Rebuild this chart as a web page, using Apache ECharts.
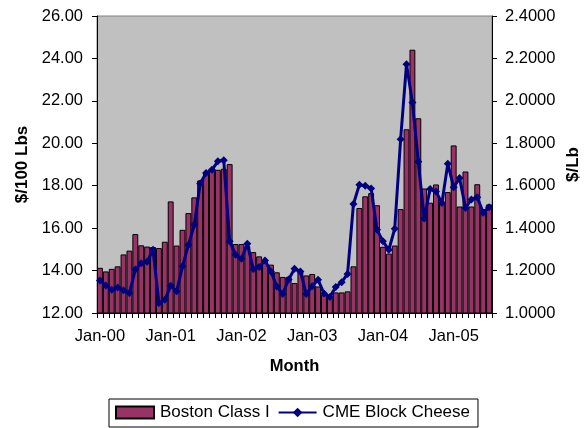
<!DOCTYPE html>
<html>
<head>
<meta charset="utf-8">
<script src="https://cdn.jsdelivr.net/npm/echarts@6/dist/echarts.min.js"></script>
<style>
  html, body { margin: 0; padding: 0; background: #fff; }
  #chart { width: 587px; height: 428px; }
</style>
</head>
<body>
<div id="chart"></div>
<script>
// months Jan-00 .. Jul-05
var months = [
  'Jan-00','Feb-00','Mar-00','Apr-00','May-00','Jun-00','Jul-00','Aug-00','Sep-00','Oct-00','Nov-00','Dec-00',
  'Jan-01','Feb-01','Mar-01','Apr-01','May-01','Jun-01','Jul-01','Aug-01','Sep-01','Oct-01','Nov-01','Dec-01',
  'Jan-02','Feb-02','Mar-02','Apr-02','May-02','Jun-02','Jul-02','Aug-02','Sep-02','Oct-02','Nov-02','Dec-02',
  'Jan-03','Feb-03','Mar-03','Apr-03','May-03','Jun-03','Jul-03','Aug-03','Sep-03','Oct-03','Nov-03','Dec-03',
  'Jan-04','Feb-04','Mar-04','Apr-04','May-04','Jun-04','Jul-04','Aug-04','Sep-04','Oct-04','Nov-04','Dec-04',
  'Jan-05','Feb-05','Mar-05','Apr-05','May-05','Jun-05','Jul-05'
];

// Boston Class I, $/100 Lbs (left axis)
var bostonClassI = [
  14.13, 13.96, 14.08, 14.20, 14.76, 14.94, 15.72, 15.19, 15.13, 15.11, 15.06, 15.36,
  17.26, 15.18, 15.92, 16.71, 17.45, 18.25, 18.60, 18.70, 18.75, 18.80, 19.02, 15.25,
  15.25, 15.15, 14.87, 14.67, 14.48, 14.28, 13.92, 13.70, 13.70, 13.41, 13.95, 13.77,
  13.84, 13.25, 12.86, 12.72, 12.97, 12.97, 13.02, 14.20, 16.95, 17.50, 17.65, 17.08,
  15.12, 14.80, 15.18, 16.90, 20.66, 24.41, 21.18, 17.87, 17.20, 18.06, 17.20, 17.70,
  19.90, 17.02, 18.67, 17.02, 18.07, 16.90, 17.12
];

// CME Block Cheese, $/Lb (right axis)
var cmeBlockCheese = [
  1.153, 1.130, 1.110, 1.120, 1.107, 1.094, 1.205, 1.235, 1.242, 1.298, 1.047, 1.062,
  1.128, 1.102, 1.220, 1.320, 1.416, 1.610, 1.660, 1.675, 1.715, 1.720, 1.338, 1.275,
  1.256, 1.327, 1.207, 1.217, 1.248, 1.196, 1.125, 1.090, 1.158, 1.208, 1.196, 1.090,
  1.126, 1.157, 1.092, 1.076, 1.123, 1.145, 1.184, 1.514, 1.604, 1.600, 1.587, 1.392,
  1.338, 1.298, 1.397, 1.819, 2.173, 1.992, 1.713, 1.446, 1.584, 1.573, 1.518, 1.703,
  1.593, 1.636, 1.495, 1.535, 1.546, 1.473, 1.499
];

var leftAxis = { min: 12, max: 26, step: 2 };
var rightAxis = { min: 1.0, max: 2.4, step: 0.2 };

var font = 'Liberation Sans, Arial, sans-serif';
var fs = 16.5;
var myChart = echarts.init(document.getElementById('chart'));

myChart.setOption({
  animation: false,
  textStyle: { fontFamily: font },
  grid: {
    left: 97, right: 95, top: 16, bottom: 115,
    show: true,
    backgroundColor: '#C0C0C0',
    borderColor: '#808080',
    borderWidth: 1,
    outerBoundsMode: 'none'
  },
  legend: {
    left: 109, top: 399,
    padding: [5, 8, 6, 6],
    borderColor: '#000', borderWidth: 1,
    itemWidth: 38, itemHeight: 12, itemGap: 8,
    textStyle: { color: '#000', fontSize: 17, fontFamily: font, padding: [0, 0, 0, 1] },
    data: [
      { name: 'Boston Class I', icon: 'rect' },
      { name: 'CME Block Cheese' }
    ]
  },
  xAxis: {
    type: 'category',
    data: months,
    boundaryGap: true,
    name: 'Month',
    nameLocation: 'middle',
    nameGap: 45,
    nameTextStyle: { fontWeight: 'bold', fontSize: fs, color: '#000' },
    axisLine: { lineStyle: { color: '#000', width: 1 } },
    axisTick: { show: true, interval: 0, length: 5, lineStyle: { color: '#000' } },
    axisLabel: { interval: 11, color: '#000', fontSize: fs, margin: 15, hideOverlap: false },
    splitLine: { show: false }
  },
  yAxis: [
    {
      type: 'value',
      min: leftAxis.min, max: leftAxis.max, interval: leftAxis.step,
      name: '$/100 Lbs',
      nameLocation: 'middle',
      nameGap: 66,
      nameRotate: 90,
      nameTextStyle: { fontWeight: 'bold', fontSize: 17, color: '#000' },
      axisLine: { show: true, lineStyle: { color: '#000' } },
      axisTick: { show: true, length: 5, lineStyle: { color: '#000' } },
      axisLabel: { color: '#000', fontSize: fs, margin: 14, formatter: function (v) { return v.toFixed(2); } },
      splitLine: { show: false }
    },
    {
      type: 'value',
      position: 'right',
      min: rightAxis.min, max: rightAxis.max, interval: rightAxis.step,
      name: '$/Lb',
      nameLocation: 'middle',
      nameGap: 73,
      nameMoveOverlap: false,
      nameRotate: 90,
      nameTextStyle: { fontWeight: 'bold', fontSize: 17, color: '#000' },
      axisLine: { show: true, lineStyle: { color: '#000' } },
      axisTick: { show: true, length: 5, lineStyle: { color: '#000' } },
      axisLabel: { color: '#000', fontSize: fs, margin: 13, formatter: function (v) { return v.toFixed(4); } },
      splitLine: { show: false }
    }
  ],
  series: [
    {
      name: 'Boston Class I',
      type: 'bar',
      yAxisIndex: 0,
      data: bostonClassI,
      barCategoryGap: '0%',
      itemStyle: { color: '#993366', borderColor: '#000', borderWidth: 1 }
    },
    {
      name: 'CME Block Cheese',
      type: 'line',
      yAxisIndex: 1,
      data: cmeBlockCheese,
      symbol: 'diamond',
      symbolSize: 8,
      showAllSymbol: true,
      lineStyle: { color: '#000080', width: 3 },
      itemStyle: { color: '#000080' }
    }
  ]
});
</script>
</body>
</html>
